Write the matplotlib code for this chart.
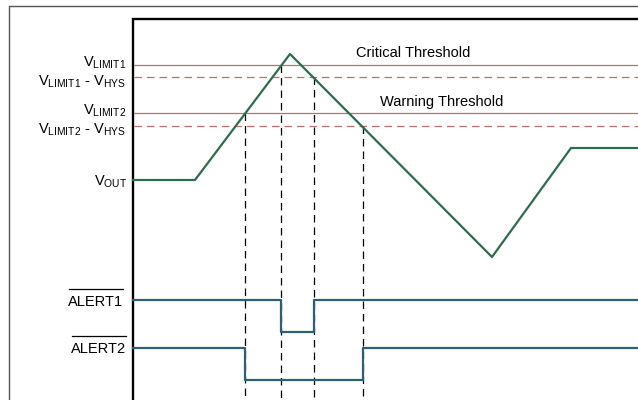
import matplotlib.pyplot as plt
import numpy as np

plt.rcParams['font.family'] = ['Liberation Sans', 'DejaVu Sans']
plt.rcParams['mathtext.fontset'] = 'custom'
plt.rcParams['mathtext.rm'] = 'Liberation Sans'
plt.rcParams['mathtext.it'] = 'Liberation Sans'

# waveform data (x = time, y = level, in drawing units, y grows downwards)
vout_t = [133, 195, 290, 492, 571, 638]
vout_v = [180, 180, 54, 257, 148, 148]

thresh_names = ['V$_{\\mathrm{LIMIT1}}$', 'V$_{\\mathrm{LIMIT1}}$ - V$_{\\mathrm{HYS}}$',
                'V$_{\\mathrm{LIMIT2}}$', 'V$_{\\mathrm{LIMIT2}}$ - V$_{\\mathrm{HYS}}$']
thresh_level = [65, 77, 113, 126]
thresh_label_y = [63, 82, 111, 130]
thresh_dashed = [False, True, False, True]

# crossing times and where their marker starts
cross_t = [245, 281, 314, 363]
cross_v = [113, 65, 77, 126]

alert1_t = [133, 281, 281, 314, 314, 638]
alert1_v = [300, 300, 332, 332, 300, 300]
alert2_t = [133, 245, 245, 363, 363, 638]
alert2_v = [348, 348, 380, 380, 348, 348]

green = '#2b6e4c'
blue = '#2c5f78'
red = '#bd6f6f'
fs = 10.5

fig = plt.figure(figsize=(6.38, 4.0), dpi=100)
ax = fig.add_axes([0, 0, 1, 1])
ax.set_xlim(0, 638)
ax.set_ylim(400, 0)
ax.axis('off')

# frames
ax.plot([9, 9, 638], [400, 6, 6], color='#555555', lw=1.0, solid_capstyle='butt')
ax.plot([133, 133, 638], [400, 19, 19], color='black', lw=1.7, solid_joinstyle='miter')

# thresholds
for name, lev, ly, dsh in zip(thresh_names, thresh_level, thresh_label_y, thresh_dashed):
    ls = (0, (6, 4)) if dsh else '-'
    ax.plot([134, 638], [lev, lev], color=red, lw=0.9, ls=ls)
    ax.text(126, ly, name, ha='right', va='center', fontsize=fs)

ax.text(413, 53, 'Critical Threshold', ha='center', va='center', fontsize=fs)
ax.text(442, 102, 'Warning Threshold', ha='center', va='center', fontsize=fs)

# crossing markers
for t, v in zip(cross_t, cross_v):
    ax.plot([t, t], [v, 400], color='black', lw=0.9, ls=(0, (6, 4)))

ax.plot(vout_t, vout_v, color=green, lw=1.6)
ax.text(127, 182, 'V$_{\\mathrm{OUT}}$', ha='right', va='center', fontsize=fs)

ax.plot(alert1_t, alert1_v, color=blue, lw=1.6)
ax.plot(alert2_t, alert2_v, color=blue, lw=1.6)

# alert labels with a bar drawn above them
fig.canvas.draw()
renderer = fig.canvas.get_renderer()
inv = ax.transData.inverted()
for lab, x_r, y_c in [('ALERT1', 123, 302), ('ALERT2', 126, 349)]:
    t = ax.text(x_r, y_c, lab, ha='right', va='center', fontsize=fs)
    bb = t.get_window_extent(renderer)
    (x0, _), (x1, _) = inv.transform([[bb.x0, bb.y0], [bb.x1, bb.y1]])
    ax.plot([x0 + 1, x1], [y_c - 13, y_c - 13], color='black', lw=0.9)

fig.savefig('out.png', dpi=100)
